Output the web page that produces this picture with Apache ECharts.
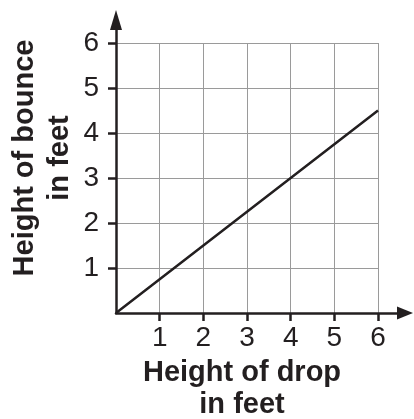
<!DOCTYPE html>
<html>
<head>
<meta charset="utf-8">
<script src="https://cdn.jsdelivr.net/npm/echarts@6/dist/echarts.min.js"></script>
<style>html,body{margin:0;padding:0;background:#fff}#chart{width:414px;height:419px}</style>
</head>
<body>
<div id="chart"></div>
<script>
// Data
const dropHeights = [0, 1, 2, 3, 4, 5, 6];
const bounceHeights = [0, 0.75, 1.5, 2.25, 3, 3.75, 4.5];
const xTickValues = [1, 2, 3, 4, 5, 6];
const yTickValues = [1, 2, 3, 4, 5, 6];
const xTitle = 'Height of drop\nin feet';
const yTitle = 'Height of bounce\nin feet';

const FONT = 'Liberation Sans';
const INK = '#231f20';
const chart = echarts.init(document.getElementById('chart'), null, {renderer: 'canvas'});

const points = dropHeights.map((x, i) => [x, bounceHeights[i]]);

const option = {
  animation: false,
  backgroundColor: '#fff',
  grid: [
    {left: 116, right: 36, top: 43, bottom: 106},
    {left: 116, right: 9, top: 20, bottom: 106}
  ],
  xAxis: [
    {
      gridIndex: 0, type: 'value', min: 0, max: 6, interval: 1,
      axisLine: {show: false},
      axisTick: {show: true, inside: false, length: 8, customValues: xTickValues, lineStyle: {color: INK, width: 2.5}},
      axisLabel: {show: true, margin: 11, fontSize: 28, color: INK, fontFamily: FONT,
                  formatter: v => (xTickValues.indexOf(v) >= 0 ? String(v) : '')},
      splitLine: {show: true, lineStyle: {color: '#9a9a9a', width: 1}}
    },
    {
      gridIndex: 0, type: 'value', min: 0, max: 6, interval: 1,
      axisLine: {show: false},
      axisTick: {show: true, inside: true, length: 7, customValues: xTickValues, lineStyle: {color: INK, width: 2.5}},
      axisLabel: {show: false}, splitLine: {show: false}
    },
    {
      gridIndex: 1, type: 'value', min: 0, max: 1,
      axisLine: {show: true, symbol: ['none', 'triangle'], symbolSize: [13, 16], lineStyle: {color: INK, width: 2.5}},
      axisTick: {show: false}, axisLabel: {show: false}, splitLine: {show: false}
    }
  ],
  yAxis: [
    {
      gridIndex: 0, type: 'value', min: 0, max: 6, interval: 1,
      axisLine: {show: false},
      axisTick: {show: true, inside: false, length: 8, customValues: yTickValues, lineStyle: {color: INK, width: 2.5}},
      axisLabel: {show: true, margin: 17, fontSize: 28, color: INK, fontFamily: FONT,
                  formatter: v => (yTickValues.indexOf(v) >= 0 ? String(v) : '')},
      splitLine: {show: true, lineStyle: {color: '#9a9a9a', width: 1}}
    },
    {
      gridIndex: 0, type: 'value', min: 0, max: 6, interval: 1,
      axisLine: {show: false},
      axisTick: {show: true, inside: true, length: 8, customValues: yTickValues, lineStyle: {color: INK, width: 2.5}},
      axisLabel: {show: false}, splitLine: {show: false}
    },
    {
      gridIndex: 1, type: 'value', min: 0, max: 1,
      axisLine: {show: true, symbol: ['none', 'triangle'], symbolSize: [12, 20], lineStyle: {color: INK, width: 2.5}},
      axisTick: {show: false}, axisLabel: {show: false}, splitLine: {show: false}
    }
  ],
  series: [{
    type: 'line',
    xAxisIndex: 0, yAxisIndex: 0,
    data: points,
    symbol: 'none',
    lineStyle: {color: INK, width: 2.5},
    z: 5
  }],
  graphic: [
    {
      type: 'text', x: 242, y: 389,
      style: {text: xTitle, fontSize: 29, fontWeight: 'bold', fontFamily: FONT, fill: INK,
              align: 'center', verticalAlign: 'middle', lineHeight: 32}
    },
    {
      type: 'text', x: 42, y: 158, rotation: Math.PI / 2,
      style: {text: yTitle, fontSize: 29, fontWeight: 'bold', fontFamily: FONT, fill: INK,
              align: 'center', verticalAlign: 'middle', lineHeight: 35}
    }
  ]
};
chart.setOption(option);
</script>
</body>
</html>
